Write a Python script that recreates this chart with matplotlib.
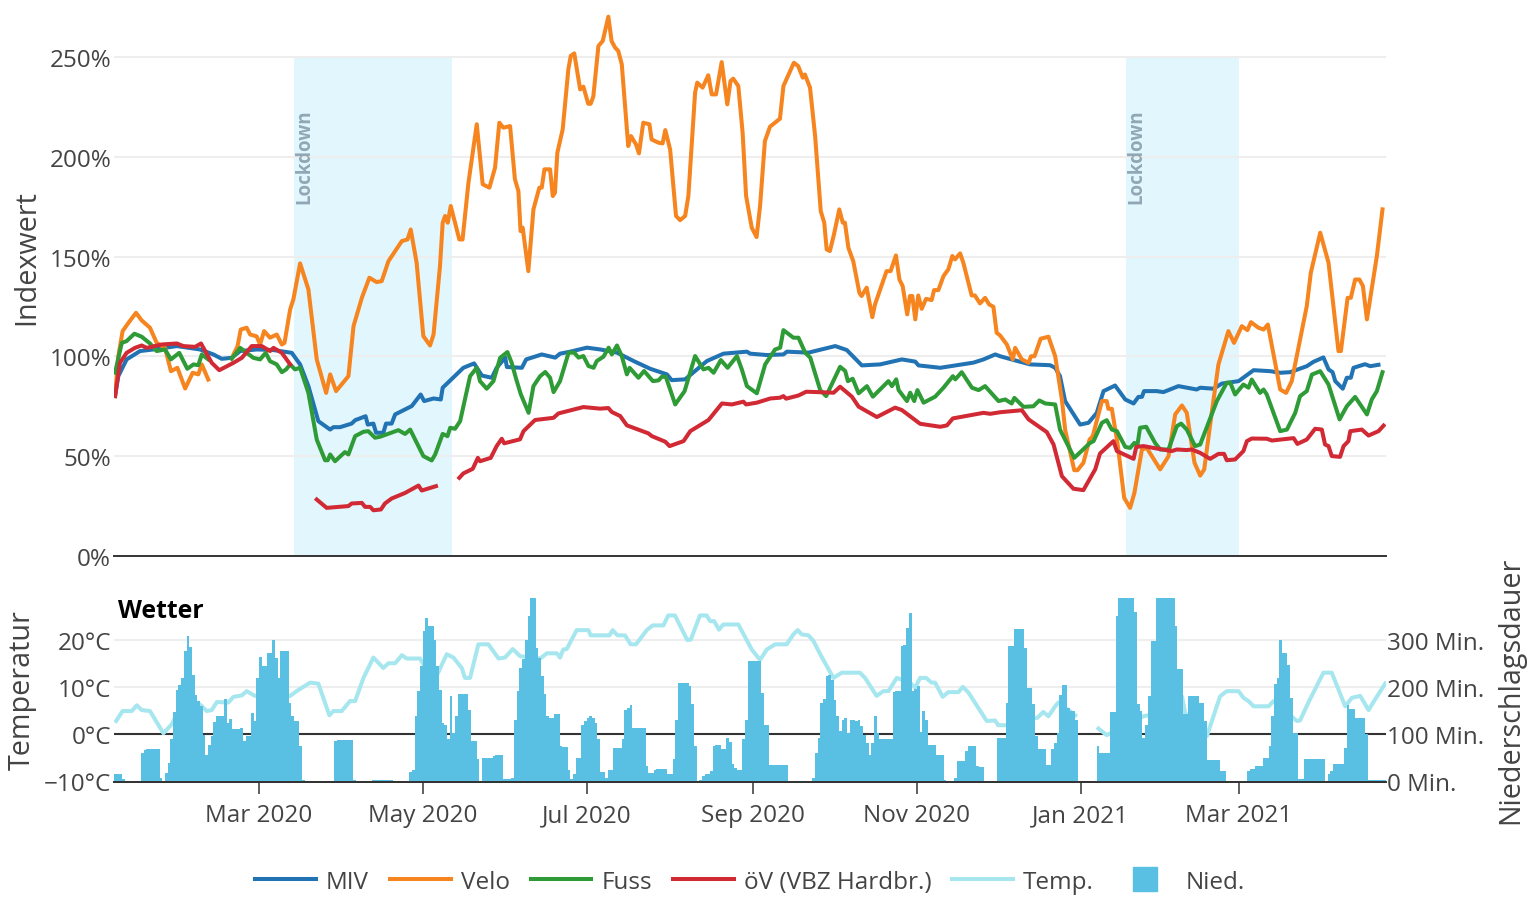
import pandas as pd
import numpy as np
import matplotlib
matplotlib.use('Agg')
import matplotlib.pyplot as plt
from matplotlib.lines import Line2D

plt.rcParams['font.family'] = ['Open Sans', 'DejaVu Sans']

nan = float('nan')
start_date = pd.Timestamp('2020-01-07')

# all series: days since start_date, index value in percent
miv_days = [0.4,1.6,4.7,9.7,14.7,23.4,32,37,40.1,43.8,47,53.2,59.4,66.2,69.3,72.4,76.1,80.5,81.7,84.2,88.5,89.8,93.7,94.5,96.6,97.6,100.3,101.3,103.4,104.7,110.9,114.2,115.5,119,121.7,122.4,130.1,134.1,137,140.7,142.5,145.7,146.3,151.9,153.5,159.3,164.3,166.1,169.9,176.1,181.1,187.3,193.5,199.7,205.9,207.7,212.7,220.8,227,235.7,236.9,243.1,249.3,250.6,258.6,268.6,272.9,278.5,285.3,293.4,298.4,299.6,307.7,320.1,323.8,328.2,330,335.6,341.2,348.6,350.5,352.3,354.2,359.8,362.9,366,368.5,372.8,376.6,379.7,381.5,382.8,383.6,388.3,390.8,396.4,403.2,404.5,409.5,412.6,418.8,424.4,430.6,434.3,438,444.2,446.7,450.4,452.3,453.8,454.8,457.6,459.1,460.6,461.6,465.9,467.8,470.9]
miv_vals = [80,90,98.4,102.6,103.4,105.1,103.4,100.9,98.7,99.2,102.6,103.4,103.1,101.7,95.9,85,67.4,63.2,64.4,64.4,66.2,67.9,69.9,65.7,66.2,61.6,61.6,66.2,66.2,70.8,75,80.8,77.5,78.8,78.3,84.2,94.2,96.4,90.3,89.2,94.2,99.3,94.6,94.2,98.4,100.9,99.3,101.3,102.3,104.3,103.4,101.8,97.6,93.7,90.9,88,88.4,97.6,101.3,102.3,101.3,100.6,100.9,102.3,101.8,105.1,103.1,95.4,95.9,98.4,97.3,95.4,94.2,96.8,98.4,100.9,100,97.9,95.9,95.5,94.2,90,77.5,65.7,66.6,71.6,82.5,85.3,78.3,76.3,79.6,79.6,82.5,82.5,82,85,83.3,84.2,83.7,86.3,87.5,93,92.5,91.7,92,95,97.2,99.4,93.4,92,87.5,83.7,89.2,89.2,94.2,96,95,95.7]

velo_days = [0.4,1.6,3.2,5.4,8.2,10.3,13.4,15.9,19,21.2,23.6,26.5,29.3,31.4,32.7,35.1,40,44.5,46,47.2,49.4,50.7,53.1,54.4,55.9,58.1,60.6,62.5,63.5,65.6,66.8,69.3,72.4,75.5,79,80.5,82.7,87.3,89.2,92.3,95.1,97.8,99.7,102.2,107.2,109.3,110.5,112.7,115.2,117.7,119,121.4,122.4,123.3,124.3,125.4,128.6,129.8,132,135.1,137.3,139.8,141.9,143.5,145,147.5,149.3,150.6,151.4,152.2,154.3,156.2,158.4,159.3,160.3,162.4,163.4,164.2,165.1,167.1,169.2,170.1,171.4,173.6,174.8,176.6,177.5,178.5,180.4,182,184.1,185.3,186.6,187.8,189.1,191.5,192.5,194.4,195.5,197.1,199.4,200.2,202.7,204.3,205.3,207.1,209.3,210.8,212.7,213.9,216.4,217.2,219.2,221.3,222.6,224.2,226.3,228.4,229.6,230.6,232.5,234.1,235.4,237.5,239.3,240.6,242.4,244.3,248,249.3,253.2,254.8,256.5,257.3,259.2,261.1,263.2,264.5,265.4,266.6,268.1,270.1,271.4,272.2,273.5,275.3,277.6,278.4,280.3,282.4,283.4,287.7,289.2,291.2,292.5,293.7,295.4,296.4,297.3,298.4,299.5,300.8,302.4,304.5,305.4,307,308.9,310.7,312.2,313.2,315.1,316.3,319.4,320.6,322.5,324.4,325.9,327.5,328.7,330,332.5,334.7,335.6,338.1,340.6,341.5,342.8,345.1,348,350.5,353,354.2,357.6,358.8,361,363.3,364.5,367.9,369.7,370.3,371.6,373.7,376.2,378.4,380,382.8,384.6,389.6,392.7,395.2,397.7,399.5,402.4,404.5,406,408.8,411.3,415,417.1,420,422.1,423.4,426.2,428.1,429.7,432.4,434.3,436.5,438.6,441.7,444.2,445.7,449.2,452.3,456,456.9,459.4,460.6,462.2,463.8,465.1,466.6,470.3,472.4]
velo_vals = [80,100,112.6,116.8,121.8,118,114.3,106.7,104.2,92.5,94.2,83.8,91.7,90.9,95.9,88.3,nan,100.9,105,113.4,114.3,110.9,110,105.9,112.6,109.3,110.9,105.9,106.7,123.5,128.5,146.6,133.5,98.4,81.6,90.9,82.5,90,115.1,129.3,139.4,137.2,137.7,147.7,157.8,158.6,163.6,146.9,110.1,105.4,110.9,145.2,167,170.4,167,175.4,158.6,158.6,187.1,216.4,186.3,184.6,194.6,217.2,214.7,215.5,188.8,182.9,162.8,164.5,142.7,173.7,184.6,184.6,193.8,193.8,180.4,182,202.1,213.9,244,250.7,252,233.9,235.3,226.7,226.7,230.3,255.7,258.2,270.4,258.2,254.9,253.2,246.5,205.5,210.5,206.3,201.8,217.2,216.4,208.8,207.2,206.8,213.5,203.8,170.4,168.3,170.4,180.4,232.2,237.3,234.8,241,231.4,231.4,247.6,226.4,238.1,239.3,235.6,212.2,180.4,164.5,159.8,175.4,208,215.2,219.2,235.6,247.3,245.6,239.8,241.4,234.8,210.5,172.8,167,153.6,152.8,161,173.7,167,167,154.4,147.7,131.8,130.2,134.4,119.6,126,142.7,142.7,150.6,138.5,135.2,121,130.2,130.2,118.5,130.5,123.8,128.8,128.2,133.2,133.2,140.2,143.6,150.3,148.6,151.6,146.9,130.5,130.5,126.5,129.3,126,124.8,111.8,110.4,105.9,98.4,104.2,98.4,96.7,100,100,108.8,109.8,100,78.3,63.2,42.8,42.8,46.5,58.2,59.9,77.5,77.5,73.6,73.6,56.5,28.9,23.9,31.4,53.2,54,43.2,49.8,70.8,75.3,71.6,46.5,40.1,43.2,71.6,95.9,112.6,106.7,115.1,113.1,117.1,114.3,113.4,115.9,96.7,83.3,81.6,87.5,108.4,125.2,141.9,162,146.9,102.6,102.6,129.3,129.3,138.5,138.5,135.2,118.5,150.3,173.7]

fuss_days = [0.4,2.9,4.7,7.6,10.3,13.4,15.9,19,21.2,24.3,27.3,29.6,31.4,32.7,35.1,40,43.8,47,49.4,51.9,54.4,56.5,58.1,60.6,62.5,64.1,65.6,67.4,69.3,72.4,75.5,78.6,79.6,80.5,82.3,86,87.3,89.8,92.9,94.7,97.2,99.1,105.9,108.4,110.3,115.2,118.3,119.6,122.4,124.2,125.2,127,128.9,132.6,135.1,136.3,138.8,141.3,143.8,146.5,148.1,149.8,151.5,154.4,156.2,158.7,160.6,162.4,163.7,166.1,169.3,171.4,173,174.8,176.7,178.6,179.8,182.3,184.2,185.4,187.3,189.1,191,192,195.3,197.4,200.7,202.8,204,205.5,209,212.5,216.4,219.5,221.4,223.3,226,228.5,232,233.8,235.7,239.4,242.5,246.2,248.1,249.3,253,254.9,257.4,259.3,263,265.2,270.4,272.3,273.3,275.1,277.3,280.4,282.6,288.4,289.7,291.3,292.2,295.3,296.5,298,299.2,301.5,305.8,308.9,312.4,313.3,315.7,319.5,322,324.4,329.4,331.9,334.3,335.3,338.7,342.4,344.6,346.8,350.5,352.3,357.6,362.5,363.5,364.8,367.9,369.7,371.6,373.5,376.6,378.4,380,381.1,382.1,384.4,387.7,389.6,392.7,395.8,397.4,399.5,402.6,404.5,410.7,414.4,415.7,417.5,420.6,422.5,423.7,426.8,428.1,429.3,434.3,436.8,439.9,441.7,444.2,446.1,449.2,452.3,456.4,459.1,462.2,466.6,468.4,470.3,472.4]
fuss_vals = [91.7,106.7,107.6,111.3,109.8,106.4,102.6,103.4,98.4,101.7,93.7,95.9,95.5,100.9,98.4,nan,98.7,104.2,101.7,99.2,98.4,101.7,97.5,95.9,92,93.4,95.9,93.4,94.2,81.6,58.2,47.8,47.8,50.7,47.3,51.9,50.7,59.9,62.1,62.4,59.1,59.6,62.9,61,63.2,49.9,47.7,50.7,61,59.9,64.1,63.6,67.4,90,94.2,87.5,83.7,87.5,99.2,102.1,96.7,88.4,80.9,71.6,85,90,92.1,89.2,82,87.5,101.8,101.8,99.3,100.1,95.1,94.2,97.6,99.8,104.3,100.9,105.4,100.1,90.9,94.2,89.2,92.6,87.5,87.9,89.7,89.7,75.8,82.5,100.1,93.4,94.2,91.7,98.1,94.2,100.1,93.4,85,81.4,95.9,103.4,104.3,113.1,109.3,109.3,101.8,99.3,83,80,94.7,92.6,87.5,88.7,81.4,85,79.7,87.5,85,88.4,83,77.5,81.7,77.5,83,76.7,79.7,84.2,90,88.4,92,84.2,83,85,77.5,78.3,76.3,79.1,74.6,74.9,77.8,76.3,75.8,63.2,49,55.2,56.5,57.4,66.6,67.9,63.2,62.4,54.5,54,56.5,55.2,64.1,64.6,56.5,53.2,53.2,64.9,66.2,63.2,54.9,55.7,77.5,86.7,86.7,80.8,85.8,84.2,88.3,81.6,83.3,80.8,62.4,63.2,71.6,80,82.5,90.8,92.5,85.8,68.3,74.9,79.6,70.8,78.3,82.5,92]

oev_days = [0.4,2.2,4.7,7.8,10.3,12.2,17.8,23.4,25.8,30.2,32.4,36.4,39.2,44.5,47.6,51.3,55,58.1,59.4,62.5,65.6,70,75.5,79.2,87.3,88.5,92.3,93.5,95.4,96.6,99.4,100.9,103.4,108.4,113.4,114.6,119.9,124,128.6,130.1,133.6,135.5,136.3,140.3,142.5,144.4,145.3,151.2,152.5,156.8,163.7,165.5,174.8,181,184.1,185.4,188.5,191,199,200.3,205.3,206.9,212.1,214.6,221.4,226.4,230.1,234.4,235.4,239.4,244.4,248.1,249.3,250.3,254.9,257.8,268,270.4,274.8,277.3,284.1,290.9,293.4,300.2,307.7,310.2,312.4,323.8,326.3,330,338.1,340.6,347.4,349.9,353,357.3,361,365.4,367.2,372.2,373.5,379.7,380.7,383.4,388.3,393.9,395.8,399.5,401.4,404.5,408.2,411.3,413.4,414.4,417.5,420.6,421.9,423.7,429.3,431.2,439.3,440.7,444.2,447.3,449.8,451,452.3,453.5,456.6,457.9,459.7,460.4,464.7,467.2,470.9,472.8]
oev_vals = [80,96.7,101.7,104.2,105.4,104.2,105.9,106.4,105.1,104.7,106.4,96.7,93,96.7,99.2,105.1,105.1,102.6,104.2,101.7,95.9,nan,28.1,23.9,24.8,26.1,26.4,24.4,24.4,22.7,23.1,26.1,28.6,31.4,35.1,32.6,34.8,nan,39,41.2,43.5,49,47.3,49,54.9,58.6,56.3,58.3,62.4,68,69.1,71.3,74.5,73.7,74,72,70,65.3,61.3,59.9,57.1,54.9,57.4,62.4,68,76.3,75.8,77.2,75.8,76.7,78.8,79.2,80,78.7,80.3,82.2,81.7,84.7,79.7,74.7,69.5,74.2,73,66.1,64.6,65.3,68.8,71.6,71.1,71.9,72.9,68.3,61.9,55.7,39.8,33.5,32.8,43.2,51.2,57.4,52.4,48.5,54.5,54.9,53.7,52.4,53.2,52.9,53.2,51.5,48.5,51,51,47.8,48.2,52.4,57.4,58.7,58.6,57.7,58.9,56,58.2,63.6,63.2,55.7,54.9,49.9,49.5,54.9,57.4,62.4,63.2,60.2,62.4,65.2]

temp_days = [0.8,3.2,6.6,8.5,10.3,13.4,18.4,21.5,25.8,32,34.5,36.4,38.3,42.6,44.5,47.6,49.4,52.5,65.6,68,73,76.1,80.2,81.7,84.8,87.9,89.8,92.9,96.6,100.3,102.2,104.7,107.2,109,114,119,123.9,126.4,129.5,130.7,132.6,135.7,139.4,140.7,143.2,145.6,148.5,151.2,158.7,161.2,164.9,166.1,167.3,168.6,172.3,176.7,177.5,184.5,185.7,187.5,190.3,192.4,194.4,198.4,200.6,204.6,206.4,208.9,213.5,214.8,218.2,220.7,222,223.5,225.3,226.9,232.5,237.5,240.6,243.1,246.2,250.5,253,254.6,256.1,258.6,260.5,263,267.9,271,277.8,279.7,284,286.5,288.4,291.5,296.5,298.3,300.2,302.4,304.5,305.8,308.6,310.7,314.5,316.1,318.2,325,328.1,329.3,332.5,343.9,346.1,348,350.5,351.7,358,362,366.6,369.7,383.4,385.2,397.7,398.9,407,411.9,414.4,418.8,420.6,422.5,424.4,430,431.8,440.5,441.7,444.8,450.4,453.5,458.5,461,464.1,467.2,469.7,473.4]
temp_vals = [2.8,4.9,4.9,6.1,5.1,4.9,0.2,2.1,6.7,6.3,4.9,5.1,6.8,6.7,7.9,8.2,9.1,8.1,8.1,9.1,10.9,10.7,4,4.9,4.9,7,7,11.9,16.2,14,15,15,16.7,16,16,10.9,16.9,16.2,14,11.9,11.9,19,19,18,16,16.2,18,16.5,16,17.1,17.1,16.2,17.9,18,22,22,20.9,20.9,22,20.9,20.9,19,19,22,23,23,25.1,25.1,19.9,20,25.1,25.1,23.9,23.9,22.1,23.2,23.2,17.9,15.7,17.9,19,19,21.1,22,21.1,20.9,19.7,16.9,11.9,13,13,11.9,8.1,9.1,9.1,11.9,10.9,9.8,11.9,11.9,10.9,10.9,7.9,8.9,8.9,10,8.8,2.8,2.9,1.9,1.9,3.5,4.7,3.8,5.9,6.7,4,nan,1.2,-0.2,3.8,4,8,4.5,-0.4,8,9.1,9.1,7.7,7,5.9,5.9,7,2.8,2.9,6.7,13,13,5.9,7.7,8.1,5.1,7.4,10.7]

# minutes of precipitation, one value per day from start_date
rain_min = [
    15,15,15,6,2,2,2,2,2,2, 61,66,68,68,68,68,68,8,0,17,
    39,89,146,194,203,219,275,307,285,226, 182,170,159,99,57,78,96,125,139,139,
    139,175,124,132,110,110,110,113,85,96, 96,145,127,219,263,244,244,272,272,300,
    261,219,275,275,275,166,138,127,127,75, 4,2,0,0,0,0,0,0,0,0,
    0,0,85,87,87,87,87,87,87,4, 0,0,0,0,0,0,3,3,3,3,
    3,3,3,3,0,0,0,0,0,0, 20,25,138,191,245,317,346,328,328,300,
    244,194,124,120,89,180,103,138,184,184, 184,184,152,85,85,47,0,50,50,50,
    50,54,57,57,57,6,6,6,8,131, 191,240,258,300,349,388,388,282,261,222,
    184,138,135,135,142,142,75,73,73,25, 6,15,50,50,120,127,135,138,135,124,
    90,20,20,8,25,25,71,71,71,90, 152,156,161,113,113,113,113,113,32,18,
    18,25,27,27,27,27,15,15,47,131, 209,209,209,209,202,163,76,2,4,11,
    15,15,22,75,78,78,68,68,92,83, 36,29,25,25,90,131,254,254,254,254,
    254,187,120,120,35,35,35,35,35,35, 35,1,1,1,1,1,1,1,2,2,
    8,61,92,166,175,222,224,215,173,139, 106,131,135,103,131,129,127,129,117,99,
    82,57,82,139,103,90,90,90,90,90, 189,191,191,287,289,325,356,191,196,201,
    104,149,131,78,78,78,57,57,57,3, 2,2,2,8,43,43,43,64,76,76,
    76,32,31,31,1,0,0,0,0,92, 92,92,166,286,286,323,323,323,323,282,
    198,198,163,96,68,68,68,34,34,68, 82,103,182,203,203,156,149,149,131,0,
    0,0,0,0,0,0,75,60,60,60, 60,146,146,349,388,388,388,388,388,388,
    358,163,149,92,120,180,296,296,388,388, 388,388,388,388,388,328,237,237,142,142,
    180,180,180,180,166,166,127,45,45,45, 45,45,22,22,2,2,2,2,2,2,
    2,2,22,27,27,32,32,32,50,50, 75,138,205,219,300,272,272,247,177,103,
    103,6,6,47,47,47,47,47,47,47, 47,1,15,22,38,38,38,38,70,161,
    154,154,135,135,135,135,101,3,3,3, 3,3,3,3,
]

xtick_dates = ['2020-03-01', '2020-05-01', '2020-07-01', '2020-09-01', '2020-11-01', '2021-01-01', '2021-03-01']
xtick_labels = ['Mar 2020', 'May 2020', 'Jul 2020', 'Sep 2020', 'Nov 2020', 'Jan 2021', 'Mar 2021']
lockdowns = [('2020-03-14', '2020-05-12'), ('2021-01-18', '2021-03-01')]

TEXT = '#444444'
C_MIV, C_VELO, C_FUSS, C_OEV = '#2273b3', '#f6841f', '#2e9b37', '#d12a35'
C_TEMP, C_RAIN = '#a6e6ee', '#59bfe3'
LW = 2.9
FS = 17.5
W, H = 1536, 903


def to_dates(days):
    return start_date + pd.to_timedelta(np.asarray(days, dtype=float), unit='D')


def axes_box(left, right, top, bottom):
    return [left / W, 1 - bottom / H, (right - left) / W, (bottom - top) / H]


fig = plt.figure(figsize=(W / 100, H / 100), dpi=100)
ax = fig.add_axes(axes_box(114, 1386, 14.5, 556.5))
ax_t = fig.add_axes(axes_box(114, 1386, 598.5, 782.5))
ax_r = ax_t.twinx()
x_range = [to_dates([0])[0], to_dates([473.7])[0]]

# upper panel
for a, b in lockdowns:
    ax.fill_between([pd.Timestamp(a), pd.Timestamp(b)], 0, 250, color='#e1f6fd', lw=0, zorder=0.4)
    ax.text(pd.Timestamp(a), 177, 'Lockdown', rotation=90, ha='left', va='bottom',
            fontsize=13.5, fontweight='bold', color='#90a8b5')
for days, vals, col in [(miv_days, miv_vals, C_MIV), (velo_days, velo_vals, C_VELO),
                        (fuss_days, fuss_vals, C_FUSS), (oev_days, oev_vals, C_OEV)]:
    ax.plot(to_dates(days), vals, color=col, lw=LW, solid_joinstyle='round')
ax.set_xlim(x_range)
ax.set_ylim(0, 272)
ax.set_yticks([0, 50, 100, 150, 200, 250])
ax.set_yticklabels(['0%', '50%', '100%', '150%', '200%', '250%'])
ax.set_axisbelow(True)
ax.grid(True, axis='y', color='#eeeeee', lw=1.5)
ax.tick_params(axis='y', length=0, pad=2, labelsize=FS, labelcolor=TEXT)
ax.set_xticks([])
for s in ['top', 'left', 'right']:
    ax.spines[s].set_visible(False)
ax.spines['bottom'].set_color('#333333')
ax.spines['bottom'].set_linewidth(1.4)

# lower panel
ax_t.plot(to_dates(temp_days), temp_vals, color=C_TEMP, lw=LW)
ax_t.axhline(0, color='#333333', lw=1.5, zorder=1.5)
ax_t.set_xlim(x_range)
ax_t.set_ylim(-10, 28.9)
ax_t.set_yticks([-10, 0, 10, 20])
ax_t.set_yticklabels(['−10°C', '0°C', '10°C', '20°C'])
ax_t.set_axisbelow(True)
ax_t.grid(True, axis='y', color='#eeeeee', lw=1.5)
ax_t.tick_params(axis='y', length=0, pad=2, labelsize=FS, labelcolor=TEXT)
ax_t.set_xticks([pd.Timestamp(d) for d in xtick_dates])
ax_t.set_xticklabels(xtick_labels)
ax_t.tick_params(axis='x', length=8.5, width=1.2, color='#444444', pad=7, labelsize=FS, labelcolor=TEXT)

ax_r.bar(to_dates(np.arange(len(rain_min))), rain_min, width=1.0, align='edge', color=C_RAIN, lw=0)
ax_r.set_xlim(x_range)
ax_r.set_ylim(0, 388.8)
ax_r.set_yticks([0, 100, 200, 300])
ax_r.set_yticklabels(['0 Min.', '100 Min.', '200 Min.', '300 Min.'])
ax_r.tick_params(axis='y', length=0, pad=1, labelsize=FS, labelcolor=TEXT)
for a in (ax_t, ax_r):
    for s in ['top', 'left', 'right']:
        a.spines[s].set_visible(False)
    a.spines['bottom'].set_color('#333333')
    a.spines['bottom'].set_linewidth(1.4)
ax_r.text(0.003, 0.93, 'Wetter', transform=ax_r.transAxes, fontsize=17.8, fontweight='bold',
          color='black', va='center', ha='left')

# axis titles
fig.text(27 / W, 1 - 258 / H, 'Indexwert', rotation=90, ha='center', va='center', fontsize=20.7, color=TEXT)
fig.text(22 / W, 1 - 690 / H, 'Temperatur', rotation=90, ha='center', va='center', fontsize=20.7, color=TEXT)
fig.text(1511 / W, 1 - 690 / H, 'Niederschlagsdauer', rotation=90, ha='center', va='center', fontsize=20.7, color=TEXT)

handles = [Line2D([], [], color=C_MIV, lw=LW), Line2D([], [], color=C_VELO, lw=LW),
           Line2D([], [], color=C_FUSS, lw=LW), Line2D([], [], color=C_OEV, lw=LW),
           Line2D([], [], color=C_TEMP, lw=LW),
           Line2D([], [], color=C_RAIN, lw=0, marker='s', markersize=17)]
fig.legend(handles, ['MIV', 'Velo', 'Fuss', 'öV (VBZ Hardbr.)', 'Temp.', 'Nied.'], ncol=6,
           loc='center', bbox_to_anchor=(750 / W, 1 - 883 / H), frameon=False, fontsize=FS,
           labelcolor=TEXT, handlelength=2.5, handletextpad=0.41, columnspacing=0.86)

fig.savefig('out.png', dpi=100)
